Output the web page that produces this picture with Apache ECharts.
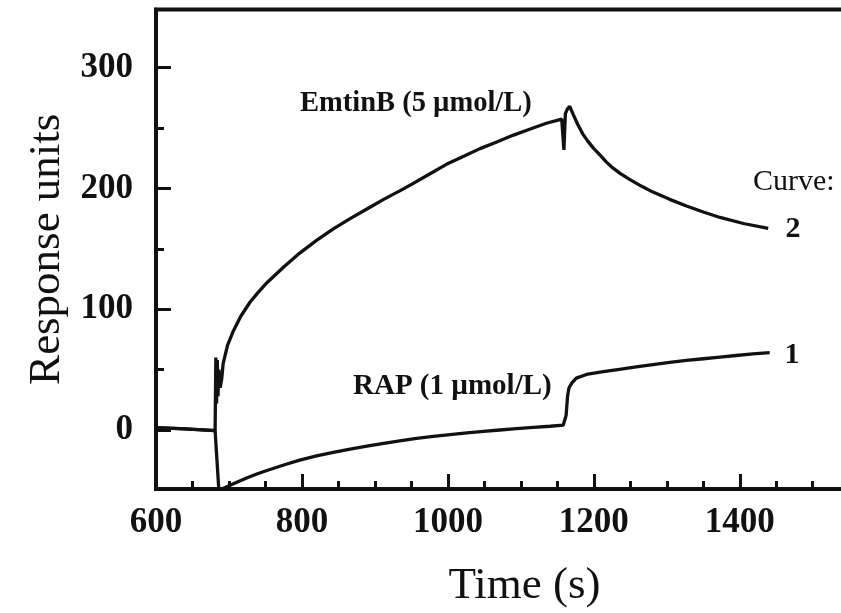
<!DOCTYPE html>
<html>
<head>
<meta charset="utf-8">
<script src="https://cdn.jsdelivr.net/npm/echarts@6/dist/echarts.min.js"></script>
<style>
html,body{margin:0;padding:0;background:#fff;}
#chart{width:841px;height:613px;}
</style>
</head>
<body>
<div id="chart"></div>
<script>
// ---- data ----
// Curve 2: EmtinB (5 umol/L)
var time2 = [600,640,681,682,683,684,685,686,688,690,692,698,706,716,729,740,752,775,797,820,843,866,889,912,934,952,975,998,1021,1044,1067,1089,1112,1135,1156,1158,1159,1161,1164,1167,1172,1178,1185,1192,1200,1208,1217,1226,1236,1249,1265,1281,1304,1327,1350,1373,1405,1439];
var resp2 = [2,1,-0.5,60,22,58,28,50,35,42,55,70,82,94,106,114,122,135,146.5,157,166.5,175,183,191,198,204,212,220,226.5,233,238.5,244,249,254,257.5,258,232,262,266,268,261,253,245,239,233,228,222,217,212.5,207.5,202,197,191,185.5,180.5,176,171,167];
// Curve 1: RAP (1 umol/L)
var time1 = [600,640,681,683,686,692,697,710,725,740,752,775,797,820,843,866,889,912,934,957,980,1003,1026,1049,1071,1094,1117,1140,1158,1160,1162,1164,1166,1170,1176,1190,1213,1235,1258,1281,1304,1327,1350,1373,1395,1418,1441];
var resp1 = [2,1,-0.5,-20,-48.5,-48.5,-47,-43.5,-39.5,-36,-33.5,-29,-25,-21.5,-18.5,-15.8,-13.3,-11,-9,-7,-5.3,-3.8,-2.4,-1.1,0,1.1,2.1,3.1,4,4,12,28,35,39,43,46,48.3,50.3,52.3,54.2,56,57.6,59,60.4,61.7,63,64];

var xMajorInterval = 200;
var yMajor = [0,100,200,300];
var yMinor = [50,150,250];
var xName = 'Time (s)';
var yName = 'Response units';
var annotations = [
  {text:'EmtinB (5 µmol/L)'},
  {text:'RAP (1 µmol/L)'},
  {text:'Curve:'},
  {text:'2'},
  {text:'1'}
];

function pairs(t, r){ return t.map(function(v,i){ return [v, r[i]]; }); }

var serif = '"Liberation Serif","DejaVu Serif",serif';
var ink = '#111';

var chart = echarts.init(document.getElementById('chart'), null, {renderer:'canvas'});
var option = {
  backgroundColor:'#fff',
  animation:false,
  grid:{left:156, top:9.5, width:737, height:479.5, show:true, borderColor:ink, borderWidth:4,
        backgroundColor:'transparent', containLabel:false, outerBoundsMode:'none'},
  xAxis:{
    type:'value', min:600, max:1610, interval:xMajorInterval,
    axisLine:{show:true, onZero:false, lineStyle:{color:ink, width:4}},
    axisTick:{show:true, inside:true, length:15, lineStyle:{color:ink, width:3}},
    minorTick:{show:true, splitNumber:4, length:8, lineStyle:{color:ink, width:3}},
    axisLabel:{color:ink, fontFamily:serif, fontSize:35, fontWeight:'bold', margin:16, formatter:function(v){return String(v);}},
    splitLine:{show:false}, minorSplitLine:{show:false},
    name:xName, nameLocation:'middle', nameGap:75,
    nameTextStyle:{color:ink, fontFamily:serif, fontSize:45}
  },
  yAxis:[{
    type:'value', min:-48.85, max:348.2, position:'left',
    axisLine:{show:true, onZero:false, lineStyle:{color:ink, width:4}},
    axisTick:{show:true, inside:true, length:15, lineStyle:{color:ink, width:3}, customValues:yMajor},
    axisLabel:{color:ink, fontFamily:serif, fontSize:35, fontWeight:'bold', margin:23, customValues:yMajor, formatter:function(v){return String(v);}},
    splitLine:{show:false},
    name:yName, nameLocation:'middle', nameGap:82, nameRotate:90,
    nameTextStyle:{color:ink, fontFamily:serif, fontSize:45}
  },{
    type:'value', min:-48.85, max:348.2, position:'left',
    axisLine:{show:false},
    axisTick:{show:true, inside:true, length:8, lineStyle:{color:ink, width:3}, customValues:yMinor},
    axisLabel:{show:false},
    splitLine:{show:false}
  }],
  series:[
    {name:'Curve 1', type:'line', data:pairs(time1, resp1), showSymbol:false, symbol:'none', clip:true,
     lineStyle:{color:ink, width:3.3}, z:3},
    {name:'Curve 2', type:'line', data:pairs(time2, resp2), showSymbol:false, symbol:'none', clip:true,
     lineStyle:{color:ink, width:3.3}, z:3}
  ],
  graphic:[
    {type:'text', x:300, y:104, style:{text:annotations[0].text, font:'bold 28.5px '+serif, fill:ink, align:'left', verticalAlign:'middle'}},
    {type:'text', x:353, y:387, style:{text:annotations[1].text, font:'bold 29px '+serif, fill:ink, align:'left', verticalAlign:'middle'}},
    {type:'text', x:753, y:182, style:{text:annotations[2].text, font:'30px '+serif, fill:ink, align:'left', verticalAlign:'middle'}},
    {type:'text', x:793, y:229, style:{text:annotations[3].text, font:'bold 30px '+serif, fill:ink, align:'center', verticalAlign:'middle'}},
    {type:'text', x:792, y:355, style:{text:annotations[4].text, font:'bold 30px '+serif, fill:ink, align:'center', verticalAlign:'middle'}}
  ]
};
chart.setOption(option);
</script>
</body>
</html>
